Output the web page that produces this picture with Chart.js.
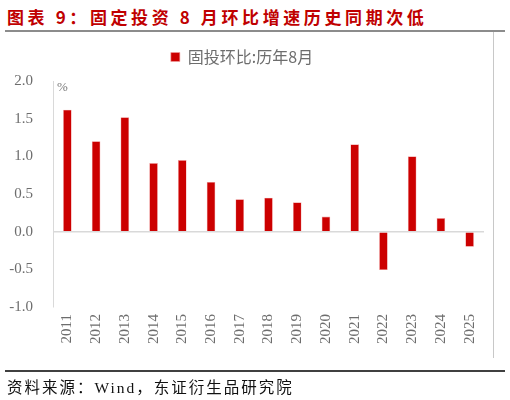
<!DOCTYPE html>
<html>
<head>
<meta charset="utf-8">
<script src="https://cdn.jsdelivr.net/npm/chart.js@4.4.1/dist/chart.umd.min.js"></script>
<style>
  body { margin:0; background:#fff; }
  #wrap { position:relative; width:510px; height:400px; overflow:hidden; }
  #title { position:absolute; left:7px; top:4px; font-family:"Noto Sans CJK SC"; font-weight:700; font-size:17px; letter-spacing:3.6px; color:#c00000; white-space:nowrap; }
  #topline { position:absolute; left:5px; top:30px; width:500px; height:2px; background:#8c8c8c; }
  #rightline { position:absolute; left:493px; top:32px; width:1px; height:326px; background:#c8c8c8; }
  #bottomline { position:absolute; left:5px; top:370px; width:500px; height:1.5px; background:#404040; }
  #source { position:absolute; left:7px; top:375px; font-family:"Liberation Serif","Noto Sans CJK SC"; font-size:15.5px; letter-spacing:2px; color:#111; white-space:nowrap; }
  #unit { position:absolute; left:57px; top:79px; font-family:"Liberation Serif"; font-size:13px; color:#7a7a7a; }
  canvas { position:absolute; left:0; top:0; }
</style>
</head>
<body>
<div id="wrap">
  <div id="title">图表 9：固定投资 8 月环比增速历史同期次低</div>
  <div id="topline"></div>
  <canvas id="chart" width="510" height="400"></canvas>
  <div id="rightline"></div>
  <div id="unit">%</div>
  <div id="bottomline"></div>
  <div id="source">资料来源：Wind，东证衍生品研究院</div>
</div>
<script>
const years = ['2011','2012','2013','2014','2015','2016','2017','2018','2019','2020','2021','2022','2023','2024','2025'];
const huanbi = [1.62, 1.20, 1.52, 0.91, 0.95, 0.66, 0.43, 0.45, 0.39, 0.20, 1.16, -0.51, 1.00, 0.18, -0.20];
const seriesName = '固投环比:历年8月';

const ctx = document.getElementById('chart');

// a bit more room under the legend
const legendGap = {
  id: 'legendGap',
  beforeInit(chart) {
    const fit = chart.legend.fit;
    chart.legend.fit = function() {
      fit.bind(chart.legend)();
      this.height += 6;
    };
  }
};

new Chart(ctx, {
  type: 'bar',
  data: {
    labels: years,
    datasets: [{
      label: seriesName,
      data: huanbi,
      backgroundColor: '#cc0000',
      borderColor: '#f0a0a0',
      borderWidth: 0.6,
      barPercentage: 0.3,
      categoryPercentage: 1
    }]
  },
  options: {
    responsive: false,
    animation: false,
    layout: {
      padding: { top: 33, right: 26, bottom: 0, left: 0 }
    },
    plugins: {
      legend: {
        position: 'top',
        labels: {
          boxWidth: 9,
          boxHeight: 9,
          padding: 16,
          color: '#6d6d6d',
          font: { family: '"Noto Sans CJK SC"', size: 16 }
        }
      },
      tooltip: { enabled: false }
    },
    scales: {
      y: {
        min: -1,
        max: 2,
        afterFit: (scale) => { scale.width = 53; },
        ticks: {
          stepSize: 0.5,
          padding: 20,
          color: '#6d6d6d',
          font: { family: '"Liberation Serif"', size: 15 },
          callback: (v) => v.toFixed(1)
        },
        grid: {
          drawTicks: false,
          color: (c) => c.tick.value === 0 ? '#d9d9d9' : 'transparent',
          lineWidth: 1.5
        },
        border: { color: '#d9d9d9' }
      },
      x: {
        afterFit: (scale) => { scale.height = 93; },
        ticks: {
          minRotation: 90,
          maxRotation: 90,
          padding: 7,
          color: '#6d6d6d',
          font: { family: '"Liberation Serif"', size: 15 }
        },
        grid: { display: false, drawTicks: false },
        border: { display: false }
      }
    }
  },
  plugins: [legendGap]
});
</script>
</body>
</html>
